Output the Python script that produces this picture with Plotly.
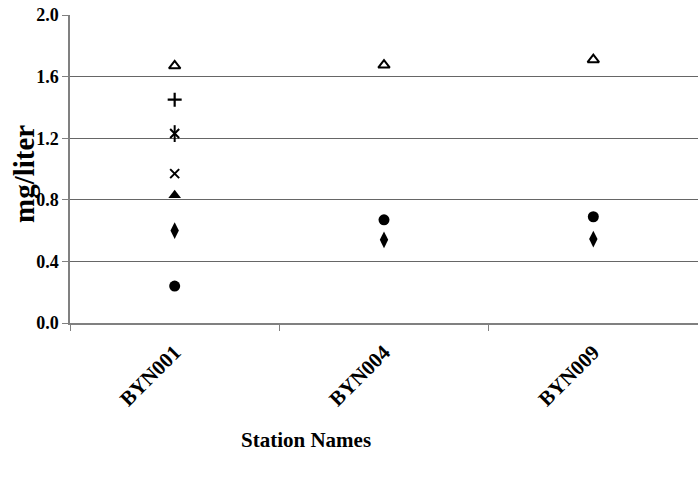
import plotly.graph_objects as go

stations = ["BYN001", "BYN004", "BYN009"]
diamond_vals = [0.60, 0.54, 0.545]
circle_vals = [0.24, 0.67, 0.69]
tri_filled_vals = [0.83, None, None]
x_vals = [0.97, None, None]
star_vals = [1.23, None, None]
plus_vals = [1.45, None, None]
tri_open_vals = [1.67, 1.675, 1.71]
y_ticks = [0.0, 0.4, 0.8, 1.2, 1.6, 2.0]

FONT = "Liberation Serif"
W, H = 698, 482
ML, MR, MT, MB = 70, 0, 15, 159
fig = go.Figure()

def add(vals, symbol, size, name, width=1.6):
    fig.add_trace(go.Scatter(
        x=stations, y=vals, mode="markers", name=name,
        marker=dict(symbol=symbol, size=size, color="black",
                    line=dict(color="black", width=width)),
        showlegend=False))

add(diamond_vals, "diamond-tall", 12, "diamond", 0)
add(circle_vals, "circle", 11, "circle", 0)
add(tri_filled_vals, "triangle-up", 11, "triangle", 0)
add(x_vals, "x-thin-open", 9, "x", 2)
add(star_vals, "x-thin-open", 9, "star", 2)
add(star_vals, "line-ns-open", 12, "star2", 2)
add(plus_vals, "cross-thin-open", 10, "plus", 2.2)
add(tri_open_vals, "triangle-up-open", 10, "triangle open", 2)

pw, ph = W - ML - MR, H - MT - MB

def px2paper(px, py):
    return (px - ML) / pw, 1 - (py - MT) / ph

ax1, ay1 = px2paper(24, 174)
ax2, ay2 = px2paper(306, 440)

fig.update_layout(
    width=W, height=H, autosize=False,
    margin=dict(l=ML, r=MR, t=MT, b=MB, autoexpand=False),
    paper_bgcolor="white", plot_bgcolor="white",
    font=dict(family=FONT, color="black"),
    xaxis=dict(
        type="category", range=[-0.5, 2.5], tickson="boundaries",
        ticks="outside", ticklen=6, tickcolor="#808080",
        showline=True, linecolor="#808080", linewidth=1.5,
        showgrid=False, tickangle=-45, ticklabelstandoff=7,
        tickfont=dict(family=FONT, size=21, color="black", weight="bold"),
    ),
    yaxis=dict(
        range=[0, 2.0], tickvals=y_ticks, ticktext=[f"{v:.1f}" for v in y_ticks],
        ticks="outside", ticklen=6, tickcolor="#808080",
        showline=True, linecolor="#808080", linewidth=1.5,
        showgrid=True, gridcolor="#666666", gridwidth=1.2,
        zeroline=False,
        tickfont=dict(family=FONT, size=18, color="black", weight="bold"),
    ),
    annotations=[
        dict(text="<b>mg/liter</b>", x=ax1, y=ay1, xref="paper", yref="paper",
             xanchor="center", yanchor="middle",
             showarrow=False, textangle=-90, font=dict(family=FONT, size=29)),
        dict(text="<b>Station Names</b>", x=ax2, y=ay2, xref="paper", yref="paper",
             xanchor="center", yanchor="middle",
             showarrow=False, font=dict(family=FONT, size=21)),
    ],
)

post = ("document.body.style.margin='0px';"
        "document.body.style.overflow='hidden';"
        "var gd=document.getElementById('{plot_id}');"
        "Plotly.relayout(gd,{width:%d,height:%d});" % (W, H))

fig.write_html("out.html", post_script=post, config={"displayModeBar": False})
